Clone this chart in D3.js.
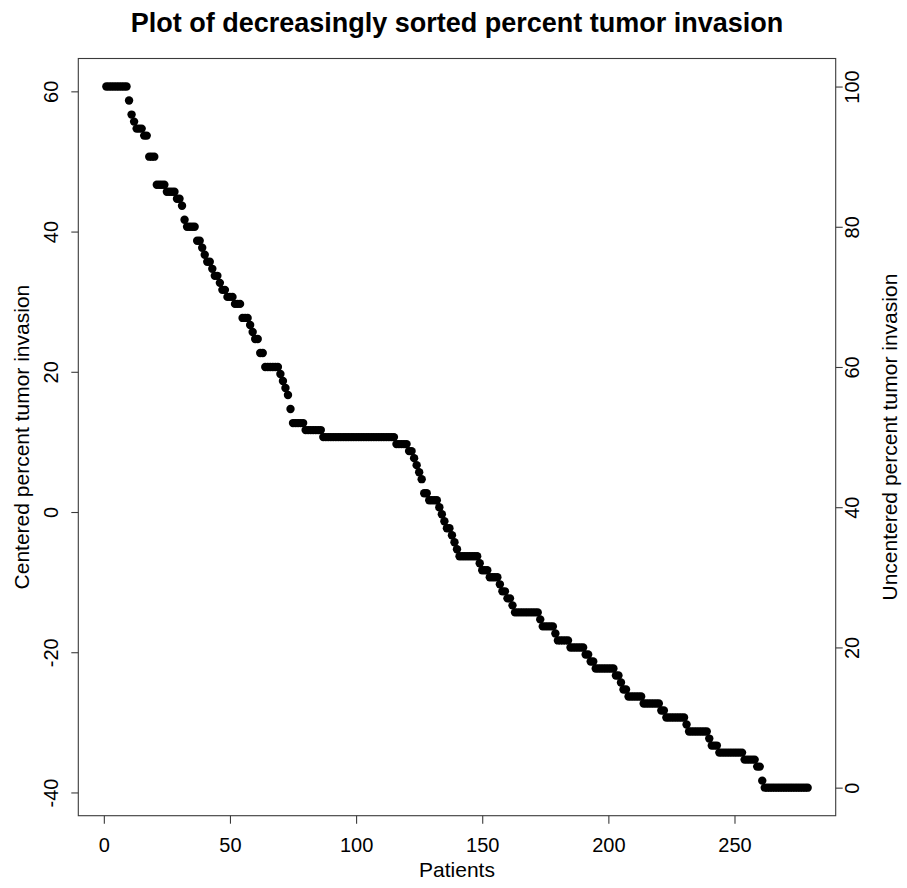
<!DOCTYPE html>
<html>
<head>
<meta charset="utf-8">
<script src="https://cdn.jsdelivr.net/npm/d3@7"></script>
<style>
  html, body { margin: 0; padding: 0; background: #fff; }
  svg text { font-family: "Liberation Sans", Arial, sans-serif; fill: #000; }
</style>
</head>
<body>
<svg id="chart" width="907" height="888"></svg>
<script>
// Percent tumor invasion per patient, sorted decreasingly, stored as runs:
// each level (uncentered percent) and the number of patients at that level.
const invasionLevels = [
  100, 98, 96, 95, 94, 93, 90, 86, 85, 84, 83, 81, 80, 78, 77, 76, 75, 74, 73, 72,
  71, 70, 69, 67, 66, 65, 64, 62, 60, 59, 58, 57, 56, 54, 52, 51, 50, 49, 48, 47,
  46, 45, 44, 42, 41, 40, 39, 38, 37, 36, 35, 34, 33, 32, 31, 30, 29, 28, 27, 26,
  25, 24, 23, 22, 21, 20, 19, 18, 17, 16, 15, 14, 13, 12, 11, 10, 9, 8, 7, 6,
  5, 4, 3, 1, 0
];
const patientCounts = [
  9, 1, 1, 1, 3, 2, 3, 4, 4, 2, 1, 1, 4, 2, 1, 1, 2, 1, 2, 1,
  2, 3, 3, 3, 1, 1, 2, 2, 6, 1, 1, 1, 1, 1, 5, 7, 29, 5, 2, 1,
  1, 1, 1, 2, 4, 1, 1, 1, 2, 1, 1, 1, 8, 1, 3, 4, 1, 2, 2, 1,
  10, 1, 5, 1, 5, 6, 2, 2, 8, 2, 1, 2, 6, 7, 2, 8, 1, 8, 1, 3,
  10, 5, 2, 1, 18
];

const xTicks = [0, 50, 100, 150, 200, 250];
const leftTicks = [-40, -20, 0, 20, 40, 60];
const rightTicks = [0, 20, 40, 60, 80, 100];

const titleText = "Plot of decreasingly sorted percent tumor invasion";
const xLabel = "Patients";
const leftLabel = "Centered percent tumor invasion";
const rightLabel = "Uncentered percent tumor invasion";

// Expand the runs into one value per patient.
const invasion = invasionLevels.flatMap((v, i) => Array(patientCounts[i]).fill(v));
const points = invasion.map((v, i) => ({ patient: i + 1, value: v }));
const meanInvasion = d3.mean(invasion);

const svg = d3.select("#chart");
const box = { left: 78.3, right: 835.7, top: 58.5, bottom: 815.7 };

// Axis ranges padded by 4% on each side, as in a base graphics plot.
const pad = ext => { const d = (ext[1] - ext[0]) * 0.04; return [ext[0] - d, ext[1] + d]; };
const xDom = pad([1, points.length]);
const uDom = pad(d3.extent(invasion));

const x = d3.scaleLinear().domain(xDom).range([box.left, box.right]);
const yU = d3.scaleLinear().domain(uDom).range([box.bottom, box.top]);
const yC = d3.scaleLinear().domain(uDom.map(v => v - meanInvasion)).range([box.bottom, box.top]);

const axisColor = "#3a3a3a";
const tickFont = 20;
const labelFont = 21;
const plainNumber = d => String(d);

function styleAxis(g) {
  g.select(".domain").remove();
  g.selectAll("line").attr("stroke", axisColor).attr("stroke-width", 1.1);
  g.selectAll("text")
    .attr("font-size", tickFont).attr("fill", "#000")
    .attr("font-family", "Liberation Sans, Arial, sans-serif");
}

// Bottom axis
svg.append("g")
  .attr("transform", `translate(0,${box.bottom})`)
  .call(d3.axisBottom(x).tickValues(xTicks).tickSize(8).tickPadding(14).tickSizeOuter(0).tickFormat(plainNumber))
  .call(styleAxis);

// Left axis (centered values), labels written upward
svg.append("g")
  .attr("transform", `translate(${box.left},0)`)
  .call(d3.axisLeft(yC).tickValues(leftTicks).tickSize(7).tickSizeOuter(0).tickFormat(plainNumber))
  .call(styleAxis)
  .selectAll("text")
  .attr("x", null).attr("dy", null)
  .attr("text-anchor", "middle")
  .attr("transform", "translate(-20,0) rotate(-90)");

// Right axis (uncentered values), labels written upward
svg.append("g")
  .attr("transform", `translate(${box.right},0)`)
  .call(d3.axisRight(yU).tickValues(rightTicks).tickSize(7).tickSizeOuter(0).tickFormat(plainNumber))
  .call(styleAxis)
  .selectAll("text")
  .attr("x", null).attr("dy", null)
  .attr("text-anchor", "middle")
  .attr("transform", "translate(23,0) rotate(-90)");

// Plot frame
svg.append("rect")
  .attr("x", box.left).attr("y", box.top)
  .attr("width", box.right - box.left).attr("height", box.bottom - box.top)
  .attr("fill", "none").attr("stroke", axisColor).attr("stroke-width", 1.1);

// Points
svg.append("g").selectAll("circle")
  .data(points)
  .join("circle")
  .attr("cx", d => x(d.patient))
  .attr("cy", d => yU(d.value))
  .attr("r", 4.2)
  .attr("fill", "#000");

// Title and axis titles
svg.append("text")
  .attr("x", (box.left + box.right) / 2).attr("y", 32)
  .attr("text-anchor", "middle")
  .attr("font-size", 27).attr("font-weight", "bold")
  .text(titleText);

svg.append("text")
  .attr("x", (box.left + box.right) / 2).attr("y", 877)
  .attr("text-anchor", "middle")
  .attr("font-size", labelFont)
  .text(xLabel);

const midY = (box.top + box.bottom) / 2;
svg.append("text")
  .attr("transform", `translate(29,${midY}) rotate(-90)`)
  .attr("text-anchor", "middle")
  .attr("font-size", labelFont)
  .text(leftLabel);

svg.append("text")
  .attr("transform", `translate(897,${midY}) rotate(-90)`)
  .attr("text-anchor", "middle")
  .attr("font-size", labelFont)
  .text(rightLabel);
</script>
</body>
</html>
